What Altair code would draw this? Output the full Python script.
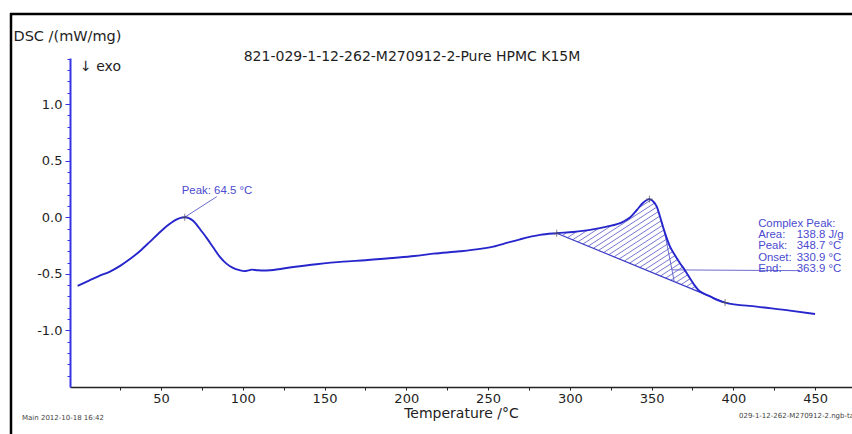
import altair as alt
import numpy as np
import pandas as pd

# ---- DSC trace: temperature (°C) vs heat flow (mW/mg) ----
temp = [-1.0, 6.0, 12.0, 18.8, 25.0, 31.0, 37.0, 43.3, 48.0, 52.0, 55.0, 58.0,
        60.0, 62.0, 64.5, 67.0, 69.8, 72.0, 74.0, 77.9, 82.0, 86.0, 90.0, 94.0,
        98.0, 101.0, 103.5, 105.5, 109.0, 112.6, 117.0, 130.9, 145.0, 161.5,
        175.0, 192.0, 205.0, 216.5, 232.9, 245.0, 253.2, 262.0, 269.6, 281.8,
        292.0, 302.0, 312.4, 322.0, 332.8, 337.0, 341.0, 345.0, 348.7, 351.0,
        353.2, 355.2, 357.6, 361.3, 364.5, 367.4, 370.5, 373.5, 376.0, 378.6,
        382.0, 385.8, 390.0, 395.0, 414.3, 434.7, 450.0]
dsc = [-0.607, -0.56, -0.52, -0.48, -0.43, -0.37, -0.30, -0.215, -0.15,
       -0.097, -0.062, -0.032, -0.017, -0.006, 0.0, -0.007, -0.033, -0.07,
       -0.108, -0.182, -0.268, -0.35, -0.41, -0.448, -0.468, -0.476, -0.47,
       -0.463, -0.468, -0.471, -0.468, -0.44, -0.415, -0.392, -0.38, -0.36,
       -0.343, -0.322, -0.301, -0.28, -0.26, -0.225, -0.195, -0.156, -0.141,
       -0.13, -0.112, -0.085, -0.039, 0.0, 0.064, 0.13, 0.16, 0.14, 0.094,
       0.005, -0.112, -0.26, -0.34, -0.406, -0.47, -0.54, -0.595, -0.642,
       -0.675, -0.70, -0.73, -0.754, -0.79, -0.825, -0.855]

# evaluated events
peak1_T, peak1_v = 64.5, 0.0
peak2_T, peak2_v = 348.7, 0.16
limit_T = [292.0, 395.0]          # integration limits of the complex peak
limit_v = [-0.141, -0.754]
area_Jg = 138.8
onset_T = 330.9
end_T = 363.9
tangent_start = (357.8, -0.12)    # point on the falling edge used for the end tangent

title_text = "821-029-1-12-262-M270912-2-Pure HPMC K15M"
x_ticks = [25, 50, 75, 100, 125, 150, 175, 200, 225, 250, 275, 300, 325, 350,
           375, 400, 425, 450, 475]
y_ticks = [round(-1.4 + 0.1 * i, 1) for i in range(29)]

BLUE = "#2626cc"
AXIS_BLUE = "#3434e4"
NOTE_BLUE = "#4a4ad0"
INK = "#1e1e1e"

x_scale = alt.Scale(domain=[-5.66, 472.6], nice=False, zero=False)
y_scale = alt.Scale(domain=[-1.5, 1.407], nice=False, zero=False)

half_test = "abs(datum.value*2 - round(datum.value*2)) < 0.001"
x_axis = alt.Axis(
    values=x_ticks, labelExpr="datum.value % 50 === 0 ? datum.value + '' : ''",
    title="Temperature /°C", titleFont="DejaVu Sans", titleFontSize=14,
    titleFontWeight="normal", titleColor=INK, titleBaseline="alphabetic", titleY=30,
    labelFont="DejaVu Sans", labelFontSize=13, labelColor=INK, labelPadding=2,
    labelOverlap=False, tickSize=3, tickColor="#222", domainColor="#222",
    domainWidth=1.6, grid=False)
y_axis = alt.Axis(
    values=y_ticks,
    labelExpr=half_test + " ? (datum.value < 0 ? '-' : '') + format(abs(datum.value), '.1f') : ''",
    tickSize={"condition": {"test": half_test, "value": 5}, "value": 3},
    title="DSC /(mW/mg)", titleAngle=0, titleAlign="left", titleBaseline="middle",
    titleX=-57, titleY=-22, titleFont="DejaVu Sans", titleFontSize=14.5,
    titleFontWeight="normal", titleColor=INK,
    labelFont="DejaVu Sans", labelFontSize=13, labelColor=INK, labelPadding=3,
    labelOverlap=False, tickColor=AXIS_BLUE, domainColor=AXIS_BLUE, domainWidth=2,
    grid=False)


def X(f):
    return alt.X(f, type="quantitative", scale=x_scale, axis=x_axis)


def Y(f):
    return alt.Y(f, type="quantitative", scale=y_scale, axis=y_axis)


curve_df = pd.DataFrame({"T": temp, "v": dsc})

# straight integration baseline between the two limits
base_df = pd.DataFrame({"T": limit_T, "v": limit_v})

# hatching of the area between curve and baseline
PX_T, PX_V = 1.635, 113.2          # screen px per °C and per mW/mg
ang = np.radians(33)
slope = np.tan(ang) * PX_T / PX_V
gap = 4.6 / np.cos(ang) / PX_V
grid = np.arange(limit_T[0], limit_T[1] + 1e-9, 0.05)
cv = np.interp(grid, temp, dsc)
bv = limit_v[0] + (limit_v[1] - limit_v[0]) * (grid - limit_T[0]) / (limit_T[1] - limit_T[0])
off = slope * (grid - limit_T[0])
rows = []
for c in np.arange((bv - off).min() + gap / 2, (cv - off).max(), gap):
    line = off + c
    idx = np.flatnonzero((line >= bv) & (line <= cv))
    if len(idx) < 2:
        continue
    for seg in np.split(idx, np.flatnonzero(np.diff(idx) > 1) + 1):
        if len(seg) < 2:
            continue
        rows.append({"T": grid[seg[0]], "v": line[seg[0]],
                     "T2": grid[seg[-1]], "v2": line[seg[-1]]})
hatch_df = pd.DataFrame(rows)

end_base_v = limit_v[0] + (limit_v[1] - limit_v[0]) * (end_T - limit_T[0]) / (limit_T[1] - limit_T[0])
guide_df = pd.DataFrame([
    {"T": tangent_start[0], "v": tangent_start[1], "T2": end_T, "v2": end_base_v},
    {"T": 362.5, "v": -0.465, "T2": 440.8, "v2": -0.472},
    {"T": peak1_T, "v": peak1_v, "T2": 84.1, "v2": 0.182},
])

mark_df = pd.DataFrame({"T": [peak1_T, limit_T[0], peak2_T, limit_T[1]],
                        "v": [peak1_v, limit_v[0], peak2_v, limit_v[1]]})

note_labels = ["Complex Peak:", "Area:", "Peak:", "Onset:", "End:"]
note_values = ["", f"{area_Jg} J/g", f"{peak2_T} °C", f"{onset_T} °C", f"{end_T} °C"]
note_df = pd.DataFrame({"label": note_labels, "value": note_values,
                        "v": [-0.06 - 0.099 * i for i in range(len(note_labels))]})
note_df["T"] = 415.2
note_df["T2"] = 438.8

peak_note = pd.DataFrame({"T": [62.7], "v": [0.232], "text": [f"Peak: {peak1_T} °C"]})

one = pd.DataFrame({"k": [0]})

layers = [
    # frame
    alt.Chart(one).mark_rule(color="black", strokeWidth=2.5).encode(
        x=alt.value(-60), x2=alt.value(782), y=alt.value(-44)),
    alt.Chart(one).mark_rule(color="black", strokeWidth=2.5).encode(
        x=alt.value(-59), y=alt.value(-45), y2=alt.value(376)),
    alt.Chart(hatch_df).mark_rule(color="#5454c4", strokeWidth=0.8).encode(
        x=X("T"), y=Y("v"), x2="T2", y2="v2"),
    alt.Chart(base_df).mark_line(color="#3a3ac8", strokeWidth=1.2).encode(
        x=X("T"), y=Y("v")),
    alt.Chart(guide_df).mark_rule(color="#5a5ac8", strokeWidth=0.9).encode(
        x=X("T"), y=Y("v"), x2="T2", y2="v2"),
    alt.Chart(curve_df).mark_line(color=BLUE, strokeWidth=1.9,
                                  interpolate="monotone").encode(
        x=X("T"), y=Y("v")),
    alt.Chart(mark_df).mark_point(shape="M-1,0L1,0M0,-1L0,1", filled=False,
                                  color="#505050", strokeWidth=1, size=49).encode(
        x=X("T"), y=Y("v")),
    alt.Chart(peak_note).mark_text(font="Liberation Sans", fontSize=11.4,
                                   color=NOTE_BLUE, align="left",
                                   baseline="middle").encode(
        x=X("T"), y=Y("v"), text="text:N"),
    alt.Chart(note_df).mark_text(font="Liberation Sans", fontSize=11.4,
                                 color=NOTE_BLUE, align="left",
                                 baseline="middle").encode(
        x=X("T"), y=Y("v"), text="label:N"),
    alt.Chart(note_df).mark_text(font="Liberation Sans", fontSize=11.4,
                                 color=NOTE_BLUE, align="left",
                                 baseline="middle").encode(
        x=alt.X("T2", type="quantitative", scale=x_scale, axis=x_axis),
        y=Y("v"), text="value:N"),
    # header and footer texts
    alt.Chart(pd.DataFrame({"t": [title_text]})).mark_text(
        font="DejaVu Sans", fontSize=14, color=INK, align="center",
        baseline="middle").encode(x=alt.value(342), y=alt.value(-1), text="t:N"),
    alt.Chart(pd.DataFrame({"t": ["↓ exo"]})).mark_text(
        font="DejaVu Sans", fontSize=14, color=INK, align="left",
        baseline="middle").encode(x=alt.value(10), y=alt.value(8.5), text="t:N"),
    alt.Chart(pd.DataFrame({"t": ["Main   2012-10-18 16:42"]})).mark_text(
        font="DejaVu Sans", fontSize=7, color="#444", align="left",
        baseline="middle").encode(x=alt.value(-48), y=alt.value(359.5), text="t:N"),
    alt.Chart(pd.DataFrame({"t": ["029-1-12-262-M270912-2.ngb-ta"]})).mark_text(
        font="DejaVu Sans", fontSize=7, color="#444", align="left",
        baseline="middle").encode(x=alt.value(669), y=alt.value(358), text="t:N"),
]

chart = alt.layer(*layers).properties(
    width=782, height=329,
    padding={"left": 70, "top": 58, "right": 0, "bottom": 47},
    autosize=alt.AutoSizeParams(type="none"),
    background="white",
).configure_view(stroke="transparent")

chart.save("out.html", embed_options={"renderer": "svg", "actions": False})
